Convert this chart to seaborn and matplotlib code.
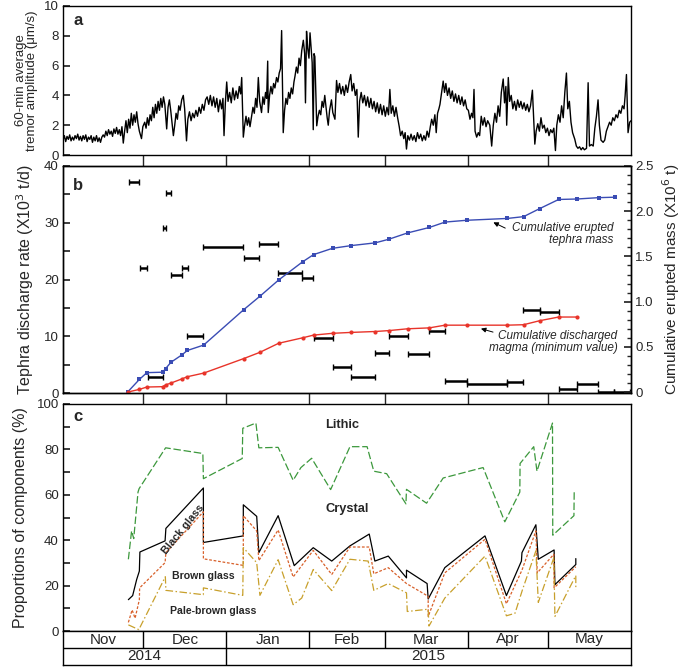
import numpy as np
import pandas as pd
import matplotlib
matplotlib.use('Agg')
import matplotlib.pyplot as plt
import seaborn as sns

sns.set_theme(style='ticks')
plt.rcParams['font.family'] = ['Liberation Sans', 'DejaVu Sans']

# time axis: days since 1 Nov 2014
month_edges = [0, 30, 61, 92, 120, 151, 181, 212]
month_names = ['Nov', 'Dec', 'Jan', 'Feb', 'Mar', 'Apr', 'May']
year_names = ['2014', '2015']
year_edges = [0, 61, 212]

# (a) 60-min average tremor amplitude, traced (day, um/s)
tremor = [
    (0, 1.0), (0.5, 1.3), (1, 0.9), (1.5, 1.25), (2, 1.05), (2.5, 1.35), (3, 0.95), (3.5, 1.2), (4, 1.0),
    (4.5, 1.3), (5, 1.1), (5.5, 1.4), (6, 1.0), (6.5, 1.25), (7, 0.95), (7.5, 1.3), (8, 1.05), (8.5, 1.35),
    (9, 0.9), (9.5, 1.2), (10, 1.05), (10.5, 1.3), (11, 0.85), (11.5, 1.2), (12, 0.95), (12.5, 1.3), (13, 0.9),
    (13.5, 1.15), (14, 0.85), (14.5, 1.2), (15, 1.35), (15.5, 1.2), (16, 1.6), (16.5, 1.3), (17, 1.7),
    (17.5, 1.4), (18, 1.6), (18.5, 1.25), (19, 1.75), (19.5, 1.45), (20, 1.85), (20.5, 1.4), (21, 1.7),
    (21.5, 1.3), (22, 1.9), (22.5, 0.8), (23, 1.6), (23.5, 2.3), (24, 1.5), (24.5, 2.4), (25, 1.8), (25.5, 2.8),
    (26, 2.0), (26.5, 2.7), (27, 2.2), (27.5, 2.9), (28, 2.1), (28.5, 1.6), (29.3, 1.1), (29.8, 1.9), (30.5, 2.2),
    (31, 1.8), (31.5, 2.5), (32, 2.0), (32.5, 2.7), (33, 2.3), (33.5, 3.2), (34, 2.5), (34.5, 3.4), (35, 2.8),
    (35.5, 3.6), (36, 3.0), (36.5, 3.8), (37, 3.2), (37.5, 3.9), (38, 3.4), (38.7, 1.75), (39.2, 3.2),
    (39.7, 3.7), (40.2, 3.0), (41.2, 1.3), (41.7, 2.0), (42.2, 2.8), (42.7, 2.4), (43.2, 3.3), (43.7, 3.0),
    (44.3, 3.7), (44.9, 4.0), (45.4, 3.1), (46.1, 0.95), (46.6, 2.4), (47.2, 2.9), (47.8, 2.3), (48.4, 2.8),
    (49, 2.5), (49.6, 3.0), (50.2, 2.6), (50.8, 3.2), (51.4, 2.8), (52, 3.4), (52.6, 3.0), (53.2, 3.7),
    (53.8, 3.9), (54.4, 3.4), (55, 4.0), (55.6, 3.3), (56.2, 3.9), (56.8, 3.2), (57.4, 3.8), (58, 2.9),
    (58.6, 3.7), (59.2, 3.1), (59.7, 3.8), (60.1, 1.3), (60.6, 3.5), (61.1, 4.9), (61.6, 3.6), (62.2, 4.2),
    (62.8, 3.5), (63.4, 4.5), (64, 3.7), (64.6, 4.3), (65.2, 3.8), (65.8, 4.6), (66.3, 4.1), (66.7, 5.2),
    (67.3, 1.2), (67.8, 2.0), (68.3, 2.6), (68.8, 2.0), (69.3, 2.5), (69.8, 1.9), (70.4, 2.6), (70.9, 3.2),
    (71.4, 2.8), (71.9, 3.8), (72.4, 3.2), (72.9, 5.2), (73.4, 3.6), (74.1, 2.85), (74.6, 3.9), (75.1, 3.4),
    (75.6, 4.2), (76.0, 3.8), (76.4, 6.3), (76.6, 2.85), (77.1, 4.0), (77.6, 4.6), (78.1, 4.1), (78.6, 4.8),
    (79.1, 4.5), (79.7, 5.2), (80.2, 4.9), (80.7, 5.5), (81.2, 5.8), (81.6, 8.35), (82.2, 1.5), (82.7, 3.0),
    (83.2, 3.8), (83.7, 3.4), (84.2, 4.2), (84.7, 3.8), (85.2, 4.5), (85.7, 4.1), (86.2, 4.9), (86.6, 5.3),
    (87.1, 5.9), (87.6, 5.5), (88.1, 6.5), (88.6, 6.0), (89.1, 7.0), (89.7, 7.7), (90.2, 6.8), (90.5, 3.5),
    (90.9, 8.3), (91.3, 7.2), (91.8, 6.5), (92.2, 8.2), (92.7, 7.0), (93.0, 6.2), (93.4, 1.7), (93.7, 6.8),
    (94.0, 6.6), (94.7, 1.96), (95.2, 2.6), (95.7, 3.0), (96.2, 2.7), (96.7, 3.6), (97.2, 3.2), (97.7, 4.0),
    (98.2, 3.2), (98.6, 2.5), (99.0, 2.0), (99.5, 3.0), (100.2, 3.7), (100.7, 2.85), (101.5, 2.4), (102.1, 5.0),
    (102.6, 4.2), (103.2, 4.8), (103.8, 4.1), (104.4, 4.6), (105, 4.0), (105.6, 4.7), (106.2, 4.2), (106.8, 4.9),
    (107.4, 5.4), (107.9, 4.3), (108.5, 4.8), (109.1, 4.0), (109.7, 4.4), (110.2, 1.2), (110.7, 3.6),
    (111.3, 4.2), (111.9, 3.5), (112.5, 4.0), (113.1, 3.3), (113.7, 3.9), (114.3, 3.2), (114.9, 3.8),
    (115.5, 3.1), (116.1, 3.6), (116.7, 2.9), (117.3, 3.5), (117.9, 2.8), (118.5, 3.4), (119.1, 2.7),
    (119.7, 3.3), (120.3, 2.6), (120.9, 3.2), (121.5, 2.7), (122.0, 4.4), (122.5, 2.8), (123.1, 3.3),
    (123.7, 2.6), (124.3, 3.2), (124.9, 2.5), (125.5, 1.9), (126.0, 1.3), (126.6, 1.6), (127.2, 1.1),
    (127.7, 1.5), (128.2, 0.4), (128.7, 1.3), (129.3, 1.0), (129.9, 1.4), (130.5, 1.0), (131.1, 1.3),
    (131.7, 0.9), (132.3, 1.5), (132.9, 1.1), (133.5, 1.4), (134.1, 0.95), (134.7, 1.3), (135.3, 1.0),
    (135.9, 1.6), (136.5, 1.2), (137.1, 1.9), (137.6, 2.4), (138.2, 2.0), (138.8, 2.7), (139.3, 1.5),
    (139.8, 2.8), (140.3, 3.1), (140.7, 3.4), (141.3, 4.2), (141.9, 4.96), (142.4, 4.2), (142.9, 4.8),
    (143.5, 4.0), (144.1, 4.5), (144.7, 3.8), (145.3, 4.3), (145.9, 3.6), (146.5, 4.1), (147.1, 3.5),
    (147.7, 4.0), (148.3, 3.4), (148.9, 3.9), (149.5, 3.3), (150.1, 3.7), (150.7, 3.1), (151.3, 3.0),
    (151.9, 2.4), (152.5, 2.8), (153.0, 2.5), (153.4, 4.4), (153.8, 1.6), (154.4, 1.2), (155.0, 1.5),
    (155.5, 1.3), (156.1, 2.6), (156.7, 2.0), (157.3, 2.5), (157.9, 1.9), (158.5, 2.3), (159.3, 2.0),
    (160.0, 0.6), (160.6, 2.0), (161.2, 2.8), (161.8, 2.2), (162.4, 3.3), (163.0, 2.6), (163.6, 4.2),
    (164.3, 5.1), (164.8, 3.5), (165.3, 4.6), (165.6, 2.0), (166.2, 5.2), (166.7, 3.6), (167.3, 4.0),
    (167.9, 3.1), (168.5, 3.6), (169.1, 3.0), (169.7, 3.7), (170.3, 3.2), (170.9, 3.6), (171.5, 3.1),
    (172.1, 3.5), (172.7, 3.0), (173.3, 3.4), (173.9, 2.9), (174.5, 3.3), (175.2, 4.35), (175.6, 2.8),
    (176.1, 0.73), (176.6, 1.6), (177.2, 2.1), (177.8, 1.6), (178.4, 2.5), (179.0, 1.8), (179.6, 2.0),
    (180.2, 1.5), (180.8, 1.8), (181.4, 1.3), (182.0, 1.7), (182.6, 1.5), (183.2, 1.8), (183.8, 0.3),
    (184.3, 2.0), (184.9, 2.7), (185.5, 2.2), (186.1, 3.3), (186.7, 2.5), (187.3, 4.2), (187.9, 5.5),
    (188.4, 3.1), (189.0, 3.6), (189.6, 2.2), (190.2, 1.5), (191.0, 1.07), (191.6, 0.6), (192.2, 0.45),
    (192.8, 0.55), (193.4, 0.35), (194.0, 0.5), (194.6, 0.35), (195.4, 0.45), (196.0, 4.85), (196.5, 0.6),
    (197.2, 0.7), (197.9, 0.6), (198.5, 1.8), (199.1, 2.6), (199.7, 3.7), (200.2, 2.0), (200.8, 1.0),
    (201.6, 0.85), (202.2, 1.0), (202.8, 1.6), (203.4, 1.9), (204.0, 2.2), (204.6, 2.0), (205.2, 2.5),
    (205.8, 2.3), (206.4, 2.7), (207.0, 2.5), (207.6, 3.0), (208.2, 2.8), (208.8, 3.3), (209.4, 3.1),
    (209.8, 3.95), (210.3, 5.4), (210.9, 1.5), (211.5, 2.2), (212.0, 2.3),
]

# (b) discharge rate intervals (x10^3 t/d)
rate_start = [24.7, 38.4, 37.2, 28.6, 44.3, 40.4, 52.4, 67.4, 73.2, 80.2, 89.2, 46.4, 31.6, 93.5, 100.6,
              107.6, 116.5, 121.5, 128.6, 136.5, 142.6, 150.7, 165.8, 171.8, 178.0, 185.0, 191.8, 199.6, 205.5]
rate_end = [28.5, 40.4, 38.3, 31.3, 46.5, 44.3, 67.3, 73.2, 80.2, 89.2, 93.2, 52.4, 37.4, 100.6, 107.6,
            116.5, 121.5, 128.6, 136.5, 142.6, 150.7, 165.8, 171.8, 178.0, 185.0, 191.8, 199.6, 205.5, 211.6]
rate_val = [37.2, 35.2, 29.1, 22.0, 22.1, 20.8, 25.8, 23.8, 26.3, 21.2, 20.3, 10.0, 2.9, 9.7, 4.5,
            2.8, 7.0, 10.0, 6.9, 10.9, 2.2, 1.6, 2.0, 14.6, 14.3, 0.7, 1.5, 0.15, 0.15]

# (b) cumulative masses (x10^6 t)
mass_day = [24.1, 28.5, 31.3, 37.2, 38.3, 40.3, 44.3, 46.4, 52.5, 67.4, 73.5, 80.5, 89.4, 93.5, 100.6,
            107.6, 116.5, 121.6, 128.6, 136.7, 142.6, 150.7, 165.8, 171.9, 178.0, 185.0, 191.8, 199.9, 205.9]
tephra_mass = [0, 0.14, 0.215, 0.22, 0.26, 0.33, 0.41, 0.46, 0.52, 0.91, 1.06, 1.24, 1.44, 1.52, 1.59,
               1.62, 1.65, 1.69, 1.76, 1.82, 1.88, 1.90, 1.92, 1.94, 2.03, 2.13, 2.135, 2.15, 2.155]
magma_mass = [0, 0.03, 0.056, 0.06, 0.08, 0.10, 0.145, 0.17, 0.21, 0.37, 0.44, 0.54, 0.60, 0.63, 0.65,
              0.66, 0.67, 0.68, 0.70, 0.71, 0.74, 0.74, 0.74, 0.745, 0.79, 0.83, 0.83]

# (c) cumulative proportions of components (%)
lithic_day = [24.4, 25.6, 26.4, 28.0, 28.4, 38.3, 52.2, 52.4, 66.9, 67.1, 72.0, 73.1, 80.3, 85.9, 88.8,
              92.8, 99.9, 107.1, 113.5, 116.0, 120.8, 128.0, 128.2, 135.7, 141.9, 156.8, 164.9, 170.5,
              170.6, 175.7, 176.9, 182.7, 182.8, 190.7, 190.8]
lithic_top = [31.6, 44.1, 40.7, 61.2, 62.7, 80.7, 78.2, 67.1, 76.0, 89.3, 91.6, 80.7, 80.9, 66.4, 72.0,
              76.1, 62.3, 81.2, 81.2, 70.4, 69.3, 56.0, 62.4, 56.3, 67.4, 72.0, 48.1, 61.2,
              73.8, 81.2, 70.4, 91.6, 42.2, 50.8, 61.2]
black_day = [24.4, 26.0, 27.5, 28.5, 28.7, 38.1, 38.4, 52.4, 52.4, 67.3, 67.3, 72.3, 73.1, 80.3, 86.3,
             93.4, 100.3, 107.1, 114.3, 116.4, 121.4, 128.2, 128.2, 135.9, 136.3, 142.5, 157.5, 165.5,
             171.1, 171.3, 176.5, 177.4, 183.3, 183.6, 191.4, 191.4]
black_top = [13.8, 15.6, 22.7, 26.4, 34.8, 39.7, 45.2, 63.0, 39.0, 41.9, 55.6, 50.5, 34.5, 50.8, 28.8,
             36.7, 30.8, 37.5, 42.7, 30.8, 33.0, 23.4, 26.8, 20.9, 14.1, 27.9, 41.9, 15.6,
             30.8, 34.5, 46.8, 31.6, 35.7, 20.4, 29.3, 31.9]
brown_day = [24.4, 25.8, 26.9, 28.5, 28.6, 38.1, 38.4, 52.4, 52.4, 67.3, 67.3, 72.3, 73.1, 80.3, 85.9,
             93.4, 100.3, 107.1, 114.3, 116.0, 121.4, 128.2, 136.3, 136.3, 142.5, 157.5, 165.5, 171.3,
             176.5, 177.0, 183.2, 183.3, 191.4]
brown_top = [3.8, 9.3, 5.6, 13.8, 19.0, 30.1, 34.5, 52.5, 31.8, 28.9, 50.8, 44.1, 31.0, 44.5, 23.8,
             35.5, 24.9, 37.0, 37.0, 25.2, 27.9, 20.9, 15.3, 6.4, 25.6, 40.4, 12.0, 26.8,
             44.1, 25.6, 33.8, 19.0, 28.3]
pale_day = [24.4, 28.3, 38.2, 38.4, 52.4, 52.4, 67.1, 67.3, 72.3, 73.5, 80.3, 85.9, 89.1, 93.4, 100.3,
            107.1, 113.9, 116.0, 121.4, 128.2, 128.5, 136.3, 136.6, 142.5, 157.5, 165.5, 168.7, 171.5,
            176.5, 177.4, 183.2, 183.6, 191.4, 191.4]
pale_top = [2.7, 0.6, 23.9, 17.9, 16.0, 19.0, 15.7, 36.7, 30.1, 15.7, 31.4, 11.6, 14.5, 27.1, 17.8,
            31.6, 30.8, 17.9, 20.9, 16.8, 8.6, 9.6, 2.2, 14.5, 33.0, 6.7, 7.8, 18.2,
            35.3, 12.6, 32.3, 6.4, 24.4, 18.2]

W, H = 685, 669
fig = plt.figure(figsize=(W / 100, H / 100), dpi=100)


def box(top, bottom):
    return [63 / W, 1 - bottom / H, (631 - 63) / W, (bottom - top) / H]


ax_a = fig.add_axes(box(6, 155))
ax_b = fig.add_axes(box(166, 393))
ax_c = fig.add_axes(box(404, 631))
ax_t = fig.add_axes(box(631, 665))
ax_r = ax_b.twinx()

tick_fs = 9.5
for ax in [ax_a, ax_b, ax_c, ax_t, ax_r]:
    ax.set_xlim(0, 212)
    for s in ax.spines.values():
        s.set_linewidth(1.0)
        s.set_color('black')

# ---- panel a
df_a = pd.DataFrame(tremor, columns=['day', 'amp'])
sns.lineplot(data=df_a, x='day', y='amp', ax=ax_a, color='black', lw=1.0, sort=False, estimator=None)
ax_a.set_ylim(0, 10)
ax_a.set_yticks(range(0, 11, 2))
ax_a.set_ylabel('60-min average\ntremor amplitude (μm/s)', fontsize=9.5, labelpad=4, linespacing=0.95)
ax_a.text(0.018, 0.9, 'a', transform=ax_a.transAxes, fontsize=12, fontweight='bold', va='center')

# ---- panel b
rate_mid = [(s + e) / 2 for s, e in zip(rate_start, rate_end)]
rate_half = [(e - s) / 2 for s, e in zip(rate_start, rate_end)]
ax_b.errorbar(rate_mid, rate_val, xerr=rate_half, fmt='none', ecolor='black', elinewidth=1.8,
              capsize=2.2, capthick=1.0)
ax_b.set_ylim(0, 40)
ax_b.set_yticks(range(0, 41, 5))
ax_b.set_yticklabels([str(v) if v % 10 == 0 else '' for v in range(0, 41, 5)])
ax_b.set_ylabel('Tephra discharge rate (X10$^3$ t/d)', fontsize=11.5, labelpad=6)
ax_b.text(0.018, 0.916, 'b', transform=ax_b.transAxes, fontsize=12, fontweight='bold', va='center')

sns.lineplot(x=mass_day, y=tephra_mass, ax=ax_r, color='#3a4cb4', lw=1.0, marker='s', markersize=3.2,
             markeredgewidth=0, sort=False, estimator=None)
sns.lineplot(x=mass_day[:len(magma_mass)], y=magma_mass, ax=ax_r, color='#e8342a', lw=1.0, marker='o',
             markersize=3, markeredgewidth=0, sort=False, estimator=None)
ax_r.set_ylim(-0.01, 2.5)
ax_r.set_yticks([0, 0.5, 1.0, 1.5, 2.0, 2.5])
ax_r.set_yticklabels(['0', '0.5', '1.0', '1.5', '2.0', '2.5'])
ax_r.set_yticks(np.arange(0, 2.51, 0.1), minor=True)
ax_r.set_ylabel('Cumulative erupted mass (X10$^6$ t)', fontsize=11, rotation=90, labelpad=5)
ax_r.tick_params(axis='y', which='major', direction='in', length=5, labelsize=tick_fs, pad=3)
ax_r.tick_params(axis='y', which='minor', direction='in', length=3)

ax_r.annotate('', xy=(159.7, 1.89), xytext=(166.0, 1.80),
              arrowprops=dict(arrowstyle='-|>', color='black', lw=0.7, mutation_scale=7))
ax_r.text(205.5, 1.75, 'Cumulative erupted\ntephra mass', ha='right', va='center', fontsize=8.5,
          fontstyle='italic', linespacing=1.0)
ax_r.annotate('', xy=(155.0, 0.71), xytext=(161.5, 0.655),
              arrowprops=dict(arrowstyle='-|>', color='black', lw=0.7, mutation_scale=7))
ax_r.text(207.0, 0.55, 'Cumulative discharged\nmagma (minimum value)', ha='right', va='center',
          fontsize=8.5, fontstyle='italic', linespacing=1.0)

# ---- panel c
sns.lineplot(x=lithic_day, y=lithic_top, ax=ax_c, color='#3c983c', lw=0.9, linestyle=(0, (6, 2.2)),
             sort=False, estimator=None)
sns.lineplot(x=black_day, y=black_top, ax=ax_c, color='black', lw=0.9, sort=False, estimator=None)
sns.lineplot(x=brown_day, y=brown_top, ax=ax_c, color='#d8602a', lw=0.9, linestyle=(0, (2.2, 1.4)),
             sort=False, estimator=None)
sns.lineplot(x=pale_day, y=pale_top, ax=ax_c, color='#c8a02c', lw=0.9, linestyle=(0, (6, 2, 1.2, 2)),
             sort=False, estimator=None)
ax_c.set_ylim(0, 100)
ax_c.set_yticks(range(0, 101, 10))
ax_c.set_yticklabels([str(v) if v % 20 == 0 else '' for v in range(0, 101, 10)])
ax_c.set_ylabel('Proportions of components (%)', fontsize=11.5, labelpad=6)
ax_c.text(0.018, 0.947, 'c', transform=ax_c.transAxes, fontsize=12, fontweight='bold', va='center')
ax_c.text(104, 90.7, 'Lithic', fontsize=9.3, fontweight='bold', ha='center', va='center')
ax_c.text(106, 53.8, 'Crystal', fontsize=9.3, fontweight='bold', ha='center', va='center')
ax_c.text(44.8, 45.0, 'Black glass', fontsize=7.8, fontweight='bold', ha='center', va='center', rotation=51)
ax_c.text(52.2, 24.4, 'Brown glass', fontsize=7.6, fontweight='bold', ha='center', va='center')
ax_c.text(56.0, 8.9, 'Pale-brown glass', fontsize=7.6, fontweight='bold', ha='center', va='center')

for ax in [ax_a, ax_b, ax_c]:
    ax.set_xlabel('')
    ax.set_xticks(month_edges[1:-1])
    ax.set_xticklabels([])
    ax.tick_params(axis='y', direction='in', length=5, labelsize=tick_fs, pad=3)
ax_r.set_xlabel('')
ax_a.tick_params(axis='x', direction='out', length=8, width=1.0)
ax_b.tick_params(axis='x', direction='out', length=8, width=1.0)
ax_c.tick_params(axis='x', length=0)

# ---- month / year table
ax_t.set_ylim(0, 2)
ax_t.set_xticks([])
ax_t.set_yticks([])
ax_t.axhline(1, color='black', lw=1.0)
ax_t.vlines(month_edges[1:-1], 1, 2, color='black', lw=1.0)
ax_t.vlines(year_edges[1:-1], 0, 1, color='black', lw=1.0)
for i, m in enumerate(month_names):
    ax_t.text((month_edges[i] + month_edges[i + 1]) / 2, 1.5, m, ha='center', va='center', fontsize=11)
for i, y in enumerate(year_names):
    ax_t.text((year_edges[i] + year_edges[i + 1]) / 2, 0.5, y, ha='center', va='center', fontsize=11)

fig.savefig('out.png', dpi=100)
